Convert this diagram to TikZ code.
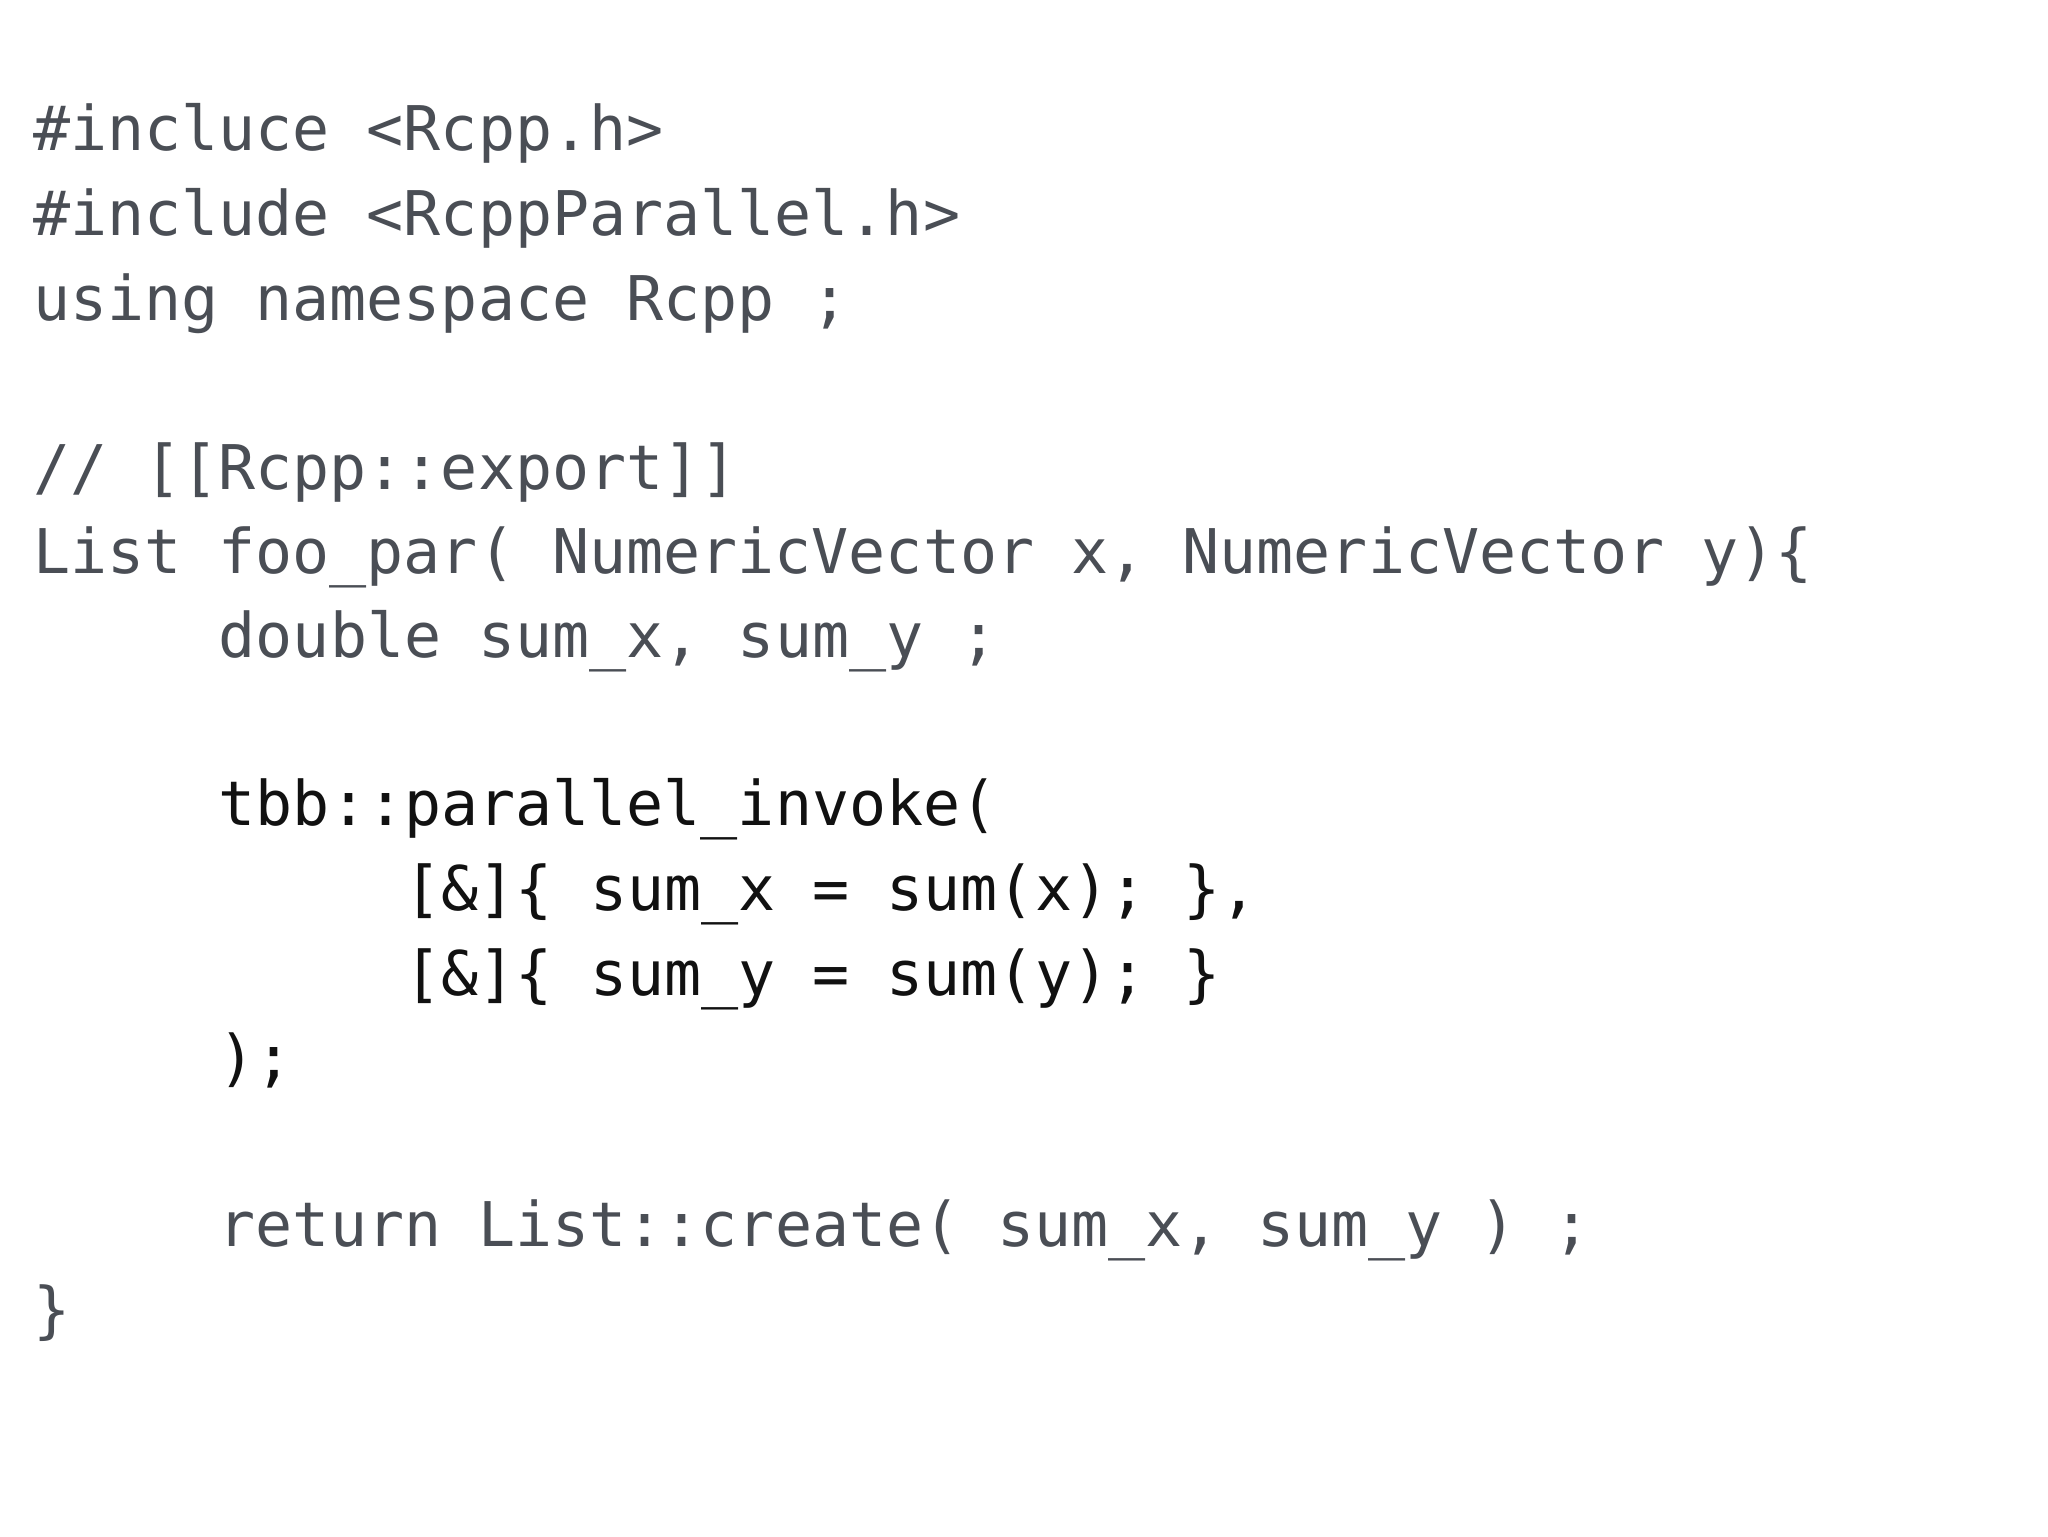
\documentclass[tikz,border=0pt]{standalone}
\usepackage{fontspec}
\newfontfamily\codefont{DejaVu Sans Mono}
\definecolor{codegray}{HTML}{4A4E55}
\definecolor{codeblack}{HTML}{111111}
\begin{document}
\begin{tikzpicture}[x=1pt,y=1pt,
  ln/.style={anchor=base west,inner sep=0pt,font=\codefont\fontsize{30.8}{42}\selectfont,text=codegray},
  lb/.style={ln,text=codeblack}]
\useasboundingbox[fill=white] (0,0) rectangle (1024,-768);
\def\cw{18.58}
\node[ln] (l1) at (16.3,-75) {\#incluce <Rcpp.h>};
\node[ln] (l2) at (16.3,-117.5) {\#include <RcppParallel.h>};
\node[ln] (l3) at (16.3,-160) {using namespace Rcpp ;};
\node[ln] (l5) at (16.3,-244.5) {// [[Rcpp::export]]};
\node[ln] (l6) at (16.3,-286.5) {List foo\_par( NumericVector x, NumericVector y)\{};
\node[ln] (l7) at (16.3+5*\cw,-328.5) {double sum\_x, sum\_y ;};
\node[lb] (l9) at (16.3+5*\cw,-412.5) {tbb::parallel\_invoke(};
\node[lb] (l10) at (16.3+10*\cw,-455) {[\&]\{ sum\_x = sum(x); \},};
\node[lb] (l11) at (16.3+10*\cw,-497.5) {[\&]\{ sum\_y = sum(y); \}};
\node[lb] (l12) at (16.3+5*\cw,-539.5) {);};
\node[ln] (l14) at (16.3+5*\cw,-623) {return List::create( sum\_x, sum\_y ) ;};
\node[ln] (l15) at (16.3,-665.5) {\}};
\end{tikzpicture}
\end{document}
